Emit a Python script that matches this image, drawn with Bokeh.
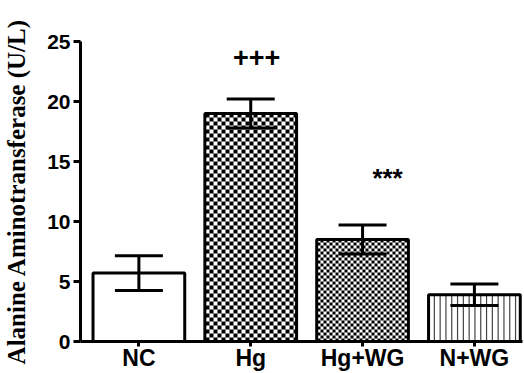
import math
from bokeh.plotting import figure
from bokeh.models import ColumnDataSource, Range1d, FixedTicker, Whisker, TeeHead
from bokeh.core.properties import value
from bokeh.embed import file_html
from bokeh.resources import INLINE

# ---- data ----
groups = ["NC", "Hg", "Hg+WG", "N+WG"]
means = [5.7, 19.0, 8.5, 3.9]
errors = [1.45, 1.2, 1.2, 0.9]
sig_labels = ["", "+++", "***", ""]
sig_y = [0, 23.7, 13.6, 0]
y_ticks = [0, 5, 10, 15, 20, 25]

# ---- styles ----
bar_width = 0.82
fill_kind = ["blank", "checker", "checker", "vlines"]
cell_px = [0, 4, 3, 5.8]          # pattern period / cell size in screen px
sig_dx = [0, 6, 25, 0]
sig_style = ["bold", "bold", "bold", "bold"]
sig_size = ["27px", "27px", "26px", "26px"]

W, H = 524, 373
LEFT, RIGHT, TOP, BOTTOM = 80, 2, 41, 32
x_start, x_end = -0.522, 3.43
px_x = (W - LEFT - RIGHT) / (x_end - x_start)
px_y = (H - TOP - BOTTOM) / 25.0

xs = list(range(len(groups)))
src = ColumnDataSource(dict(
    x=xs, top=means,
    lower=[m - e for m, e in zip(means, errors)],
    upper=[m + e for m, e in zip(means, errors)],
))

# decorative fill patterns derived from each bar's extent (snapped to screen pixels)
cl, cr, cb, ct = [], [], [], []
sx0, sx1, sy0, sy1 = [], [], [], []
for i, (xc, m) in enumerate(zip(xs, means)):
    x0, x1 = xc - bar_width / 2, xc + bar_width / 2
    x0px = LEFT + (x0 - x_start) * px_x
    snap = (math.ceil(x0px) - x0px) / px_x
    if fill_kind[i] == "checker":
        dx = cell_px[i] / px_x
        dy = cell_px[i] / px_y
        ncol = math.ceil((x1 - x0) / dx) + 2
        nrow = math.ceil(m / dy)
        for r in range(nrow):
            for c in range(-1, ncol):
                if (r + c) % 2 == 0:
                    left = max(x0 + snap + c * dx, x0)
                    right = min(x0 + snap + (c + 1) * dx, x1)
                    if right > left:
                        cl.append(left)
                        cr.append(right)
                        cb.append(r * dy)
                        ct.append(min((r + 1) * dy, m))
    elif fill_kind[i] == "vlines":
        dx = cell_px[i] / px_x
        n = math.ceil((x1 - x0) / dx)
        for k in range(1, n):
            sx0.append(x0 + k * dx)
            sx1.append(x0 + k * dx)
            sy0.append(0)
            sy1.append(m)

p = figure(width=W, height=H, output_backend="svg", toolbar_location=None,
           x_range=Range1d(x_start, x_end), y_range=Range1d(0, 25),
           min_border_left=LEFT, min_border_right=RIGHT,
           min_border_top=TOP, min_border_bottom=BOTTOM)
p.outline_line_color = None
p.grid.visible = False

p.vbar(x="x", top="top", bottom=0, width=bar_width, source=src,
       fill_color="white", line_color=None)
p.quad(left=cl, right=cr, bottom=cb, top=ct, fill_color="black", line_color=None)
p.segment(x0=sx0, y0=sy0, x1=sx1, y1=sy1, line_color="#444444", line_width=1.2)
p.vbar(x="x", top="top", bottom=0, width=bar_width, source=src,
       fill_color=None, line_color="black", line_width=3)

wh = Whisker(base="x", lower="lower", upper="upper", source=src,
             line_color="black", line_width=3, level="annotation",
             upper_head=TeeHead(size=48, line_width=3, line_color="black"),
             lower_head=TeeHead(size=48, line_width=3, line_color="black"))
p.add_layout(wh)

p.text(x=xs, y=sig_y, text=sig_labels, x_offset=sig_dx,
       text_font=value("Liberation Sans"), text_font_size=sig_size,
       text_font_style=sig_style,
       text_align="center", text_baseline="middle", text_color="black")

# axes
p.xaxis.ticker = FixedTicker(ticks=xs)
p.xaxis.major_label_overrides = {i: g for i, g in enumerate(groups)}
p.xaxis.minor_tick_line_color = None
p.yaxis.ticker = FixedTicker(ticks=y_ticks)
p.yaxis.minor_tick_line_color = None
for ax in (p.xaxis, p.yaxis):
    ax.axis_line_width = 3
    ax.major_tick_line_width = 3
    ax.major_tick_in = 0
    ax.major_label_text_font = "Liberation Sans"
    ax.major_label_text_font_style = "bold"
    ax.major_label_text_font_size = "21px"
    ax.major_label_text_color = "black"
p.xaxis.major_label_text_font_size = "23px"
p.xaxis.major_tick_out = 5
p.xaxis.major_label_standoff = -2
p.yaxis.major_tick_out = 7
p.yaxis.major_label_standoff = 3

p.yaxis.axis_label = "Alanine Aminotransferase (U/L)"
p.yaxis.axis_label_text_font = "Liberation Serif"
p.yaxis.axis_label_text_font_style = "bold"
p.yaxis.axis_label_text_font_size = "25px"
p.yaxis.axis_label_text_color = "black"
p.yaxis.axis_label_standoff = 14

open("out.html", "w").write(file_html(p, INLINE))
